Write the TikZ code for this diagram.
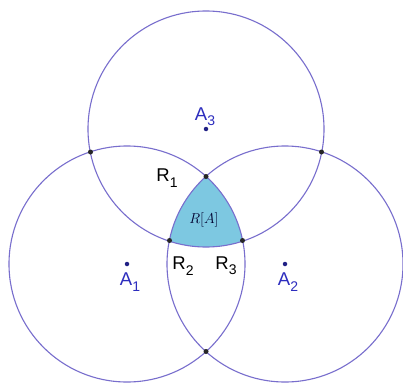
\documentclass[tikz,border=0pt]{standalone}
\usepackage{fontspec}
\setmainfont{Liberation Sans}
\definecolor{circ}{RGB}{120,110,205}
\definecolor{fillb}{RGB}{125,200,225}
\definecolor{lblue}{RGB}{45,45,190}
\newcommand{\mysub}[1]{\raisebox{-0.55ex}{\fontsize{14}{14}\selectfont #1}}
\begin{document}
\begin{tikzpicture}[x=1pt,y=-1pt,
  circle line/.style={draw=circ,line width=1.1pt},
  ptdot/.style={circle,fill=black!85,inner sep=0pt,minimum size=5pt},
  cdot/.style={circle,fill=lblue!70!black,inner sep=0pt,minimum size=4.5pt},
  alabel/.style={text=lblue,font=\fontsize{18.5}{18.5}\selectfont,inner sep=0pt},
  rlabel/.style={text=black,font=\fontsize{18.5}{18.5}\selectfont,inner sep=0pt}]
\useasboundingbox (0,0) rectangle (403,385);
\fill[white] (0,0) rectangle (403,385);
\coordinate (A1) at (127,264);
\coordinate (A2) at (285,264);
\coordinate (A3) at (206,129);
% shaded region: intersection of three disks
\begin{scope}
  \clip (A1) circle (118);
  \clip (A2) circle (118);
  \fill[fillb] (A3) circle (118);
\end{scope}
\draw[circle line] (A1) circle (118);
\draw[circle line] (A2) circle (118);
\draw[circle line] (A3) circle (118);
% intersection points
\node[ptdot] (R1) at (206,176.5) {};
\node[ptdot] (R2) at (169.5,240.5) {};
\node[ptdot] (R3) at (242.5,240.5) {};
\node[ptdot] (P1) at (90.5,152) {};
\node[ptdot] (P2) at (321.5,152) {};
\node[ptdot] (P4) at (206,351.5) {};
% centers
\node[cdot] (C1) at (A1) {};
\node[cdot] (C2) at (A2) {};
\node[cdot] (C3) at (A3) {};
% labels
\node[alabel] (L3) at (205,117) {A\mysub{3}};
\node[alabel] (L1) at (130,282) {A\mysub{1}};
\node[alabel] (L2) at (288,282) {A\mysub{2}};
\node[rlabel] (LR1) at (167,178) {R\mysub{1}};
\node[rlabel] (LR2) at (183,266) {R\mysub{2}};
\node[rlabel] (LR3) at (226,266) {R\mysub{3}};
\node[text=black!70!blue!60!black,inner sep=0pt,font=\fontsize{15}{15}\selectfont] (RA) at (204,220) {$R[A]$};
\end{tikzpicture}
\end{document}
